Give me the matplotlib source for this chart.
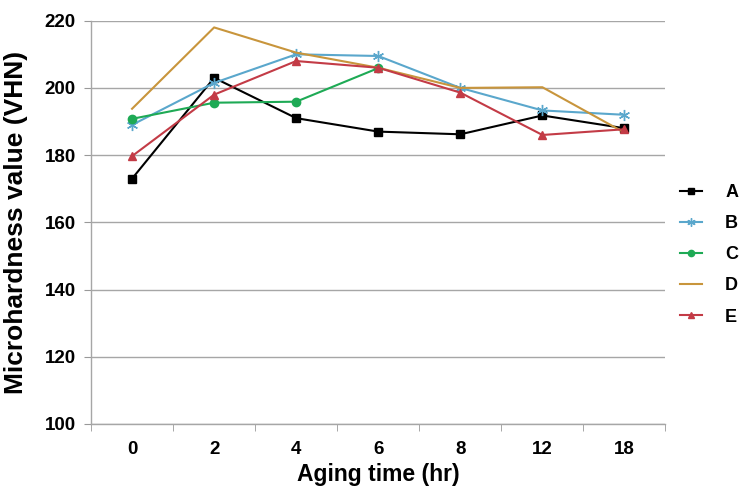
import matplotlib.pyplot as plt
from matplotlib.ticker import FixedLocator

plt.rcParams['font.family'] = ['Liberation Sans', 'DejaVu Sans']
plt.rcParams['font.weight'] = 'bold'

aging_time = ["0", "2", "4", "6", "8", "12", "18"]

A = [173, 203, 191, 187, 186.2, 191.8, 188]
B = [189, 201.5, 210, 209.5, 200, 193.3, 192]
C = [190.8, 195.6, 195.9, 205.9]
D = [193.8, 218, 210.5, 206, 200, 200.2, 186.7]
E = [179.7, 198, 208, 206, 198.6, 186, 187.7]

series = [
    ("A", A, "black", "s", 6),
    ("B", B, "#5aa7cc", (6, 2, 0), 8),
    ("C", C, "#1eaa55", "o", 6),
    ("D", D, "#c8953c", None, 0),
    ("E", E, "#c33b46", "^", 6),
]

fig = plt.figure(figsize=(7.48, 4.93), dpi=100)
ax = fig.add_axes([0.1217, 0.140, 0.768, 0.818])

for nombre, valores, color, marker, ms in series:
    ax.plot(range(len(valores)), valores, color=color, marker=marker,
            markersize=ms, linewidth=1.5, label=nombre)

ax.set_xlim(-0.5, len(aging_time) - 0.5)
ax.set_ylim(100, 220)
ax.set_yticks(range(100, 221, 20))
ax.set_xticks(range(len(aging_time)))
ax.set_xticklabels(aging_time)
ax.xaxis.set_minor_locator(FixedLocator([i + 0.5 for i in range(-1, len(aging_time))]))
ax.tick_params(axis='x', which='major', length=0, labelsize=13.5, pad=12)
ax.tick_params(axis='x', which='minor', length=5, color='#999999', direction='out')
ax.tick_params(axis='y', length=5, color='#999999', labelsize=13.5, pad=6)

ax.yaxis.grid(True, color='#a6a6a6', linewidth=1)
ax.set_axisbelow(True)
for s in ['top', 'right']:
    ax.spines[s].set_visible(False)
for s in ['left', 'bottom']:
    ax.spines[s].set_color('#a6a6a6')
    ax.spines[s].set_linewidth(1)

ax.set_xlabel("Aging time (hr)", fontsize=16.5, fontweight='bold', labelpad=4)
ax.set_ylabel("Microhardness value (VHN)", fontsize=19, fontweight='bold', labelpad=12)

fig.legend(loc='center left', bbox_to_anchor=(0.909, 0.483), frameon=False,
           fontsize=13, handlelength=1.2, labelspacing=0.78, handletextpad=1.3,
           borderpad=0, borderaxespad=0, markerscale=0.75)

plt.savefig("out.png", dpi=100)
